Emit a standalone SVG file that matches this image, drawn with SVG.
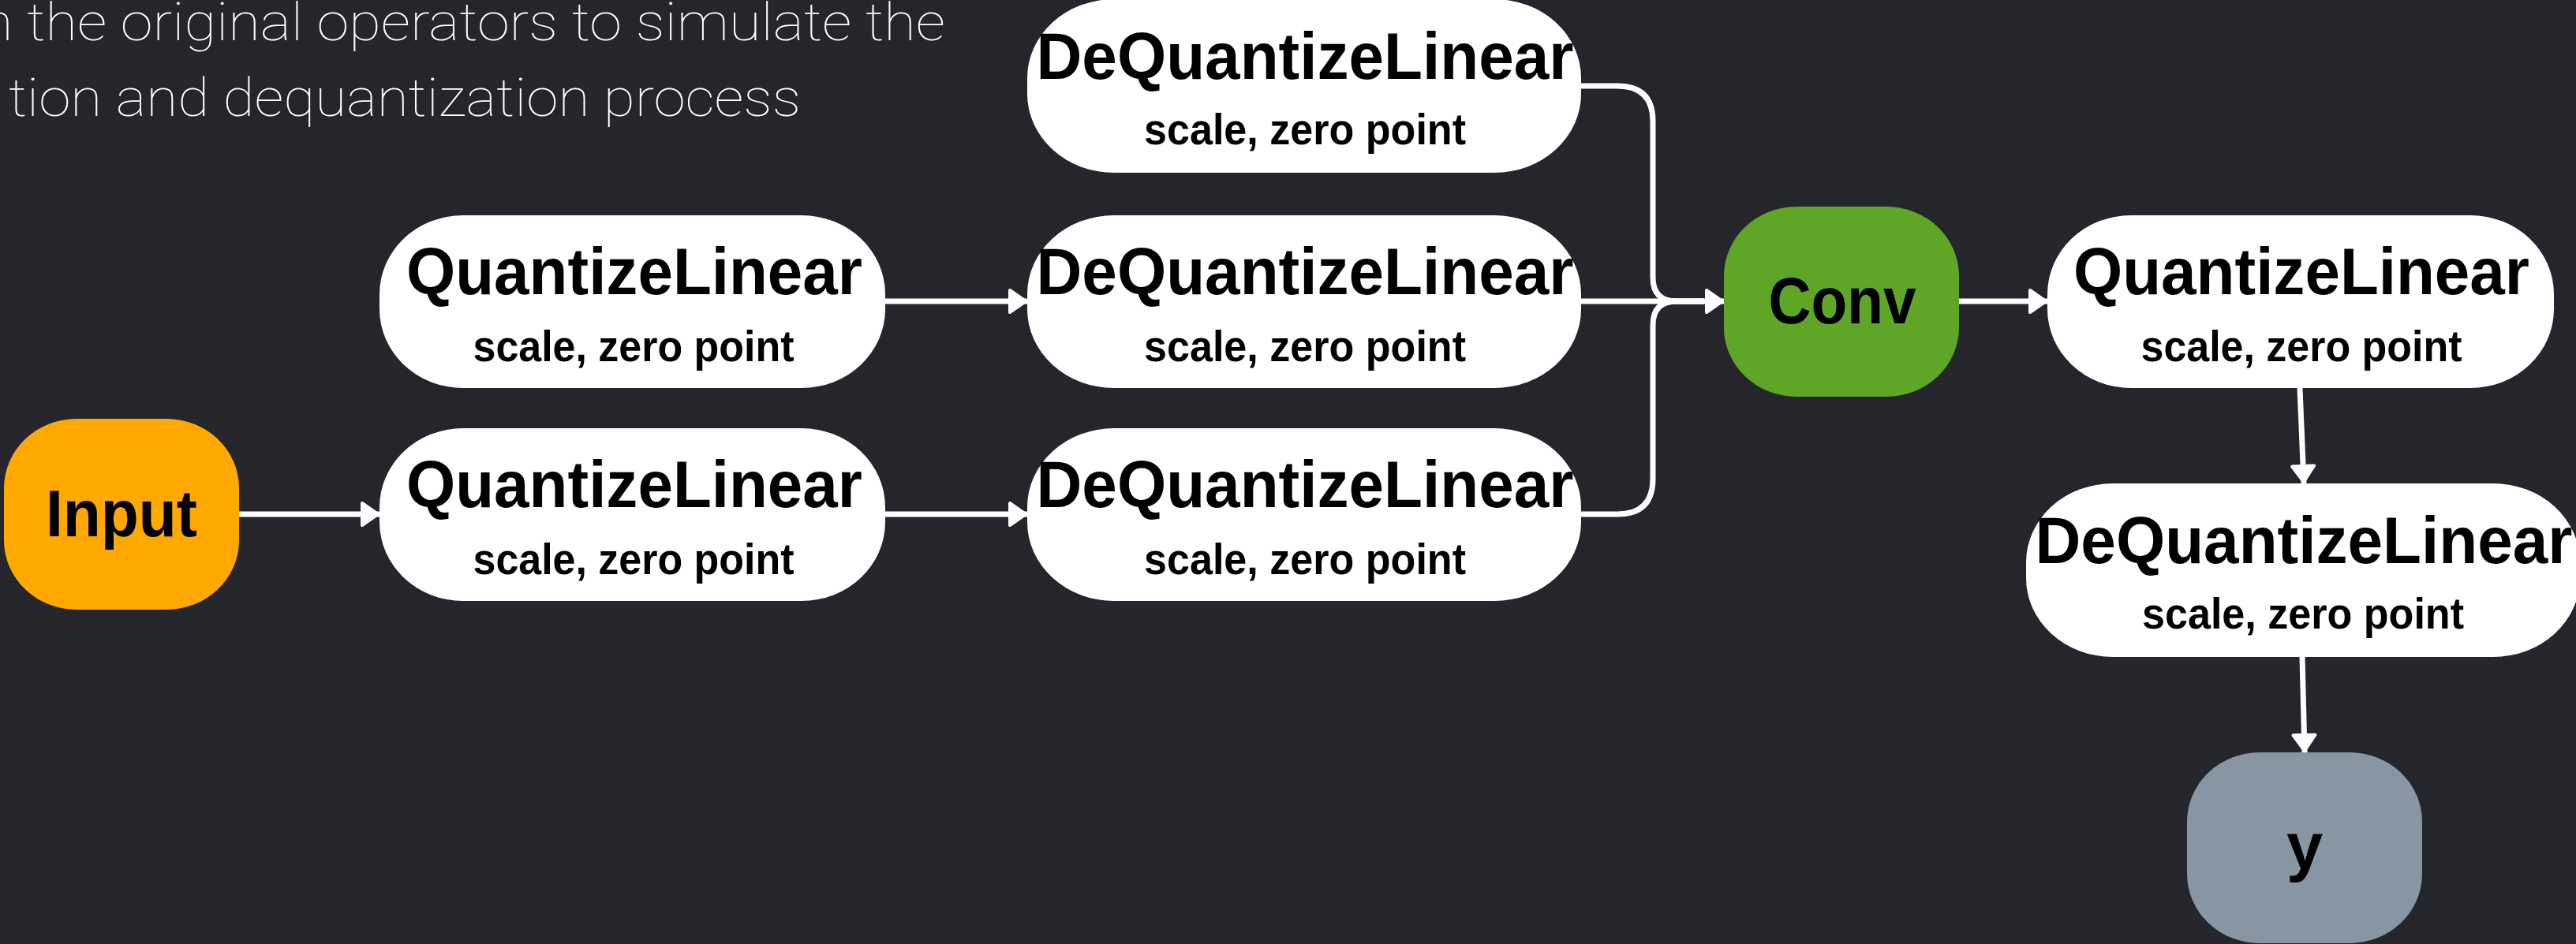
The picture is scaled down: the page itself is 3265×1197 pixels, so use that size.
<svg xmlns="http://www.w3.org/2000/svg" width="3265" height="1197" viewBox="0 0 3265 1197">
  <defs>
    <style>
      .bg { fill: #25262b; }
      .op { fill: #ffffff; }
      .title { font-family: "Liberation Sans", Arial, sans-serif; font-weight: bold; font-size: 83px; fill: #000000; text-anchor: middle; }
      .sub { font-family: "Liberation Sans", Arial, sans-serif; font-weight: bold; font-size: 56px; fill: #000000; text-anchor: middle; }
      .head { font-family: Roboto, "Open Sans", sans-serif; font-weight: 100; font-size: 66px; fill: #ffffff; }
      .edge { fill: none; stroke: #ffffff; stroke-width: 7; }
    </style>
    <marker id="arrow" markerUnits="userSpaceOnUse" viewBox="0 0 26 34" markerWidth="26" markerHeight="34" refX="25" refY="17" orient="auto">
      <path d="M3,3 L23,17 L3,31 Z" fill="#ffffff" stroke="#ffffff" stroke-width="4" stroke-linejoin="round"/>
    </marker>
  </defs>

  <rect class="bg" x="0" y="0" width="3265" height="1197"/>

  <!-- heading, continued from the previous slide area -->
  <g id="heading">
    <text class="head" x="-24" y="51" textLength="1222" lengthAdjust="spacingAndGlyphs">n the original operators to simulate the</text>
    <text class="head" x="11" y="147" textLength="1004" lengthAdjust="spacingAndGlyphs">tion and dequantization process</text>
  </g>

  <!-- connectors -->
  <g id="connectors">
    <path class="edge" d="M303,652 H481" marker-end="url(#arrow)"/>
    <path class="edge" d="M1122,382 H1302" marker-end="url(#arrow)"/>
    <path class="edge" d="M1122,652 H1302" marker-end="url(#arrow)"/>
    <path class="edge" d="M2004,109 H2050 Q2095,109 2095,154 V352 Q2095,382 2125,382 H2160"/>
    <path class="edge" d="M2004,652 H2050 Q2095,652 2095,607 V412 Q2095,382 2125,382 H2160"/>
    <path class="edge" d="M2004,382 H2185" marker-end="url(#arrow)"/>
    <path class="edge" d="M2483,382 H2595" marker-end="url(#arrow)"/>
    <path class="edge" d="M2915,492 L2920,613" marker-end="url(#arrow)"/>
    <path class="edge" d="M2918,833 L2921,954" marker-end="url(#arrow)"/>
  </g>

  <!-- nodes -->
  <g id="input">
    <rect x="5" y="531" width="298" height="242" rx="92" ry="88" fill="#ffa800"/>
    <text class="title" x="154" y="680" textLength="192" lengthAdjust="spacingAndGlyphs">Input</text>
  </g>

  <g id="quantize-weight">
    <rect class="op" x="481" y="273" width="641" height="219" rx="106" ry="100"/>
    <text class="title" x="804" y="373" textLength="578" lengthAdjust="spacingAndGlyphs">QuantizeLinear</text>
    <text class="sub" x="803" y="458" textLength="407" lengthAdjust="spacingAndGlyphs">scale, zero point</text>
  </g>

  <g id="quantize-input">
    <rect class="op" x="481" y="543" width="641" height="219" rx="106" ry="100"/>
    <text class="title" x="804" y="643" textLength="578" lengthAdjust="spacingAndGlyphs">QuantizeLinear</text>
    <text class="sub" x="803" y="728" textLength="407" lengthAdjust="spacingAndGlyphs">scale, zero point</text>
  </g>

  <g id="dequantize-bias">
    <rect class="op" x="1302" y="-1" width="702" height="220" rx="110" ry="100"/>
    <text class="title" x="1654" y="100" textLength="681" lengthAdjust="spacingAndGlyphs">DeQuantizeLinear</text>
    <text class="sub" x="1654" y="183" textLength="408" lengthAdjust="spacingAndGlyphs">scale, zero point</text>
  </g>

  <g id="dequantize-weight">
    <rect class="op" x="1302" y="273" width="702" height="219" rx="110" ry="100"/>
    <text class="title" x="1654" y="373" textLength="681" lengthAdjust="spacingAndGlyphs">DeQuantizeLinear</text>
    <text class="sub" x="1654" y="458" textLength="408" lengthAdjust="spacingAndGlyphs">scale, zero point</text>
  </g>

  <g id="dequantize-input">
    <rect class="op" x="1302" y="543" width="702" height="219" rx="110" ry="100"/>
    <text class="title" x="1654" y="643" textLength="681" lengthAdjust="spacingAndGlyphs">DeQuantizeLinear</text>
    <text class="sub" x="1654" y="728" textLength="408" lengthAdjust="spacingAndGlyphs">scale, zero point</text>
  </g>

  <g id="conv">
    <rect x="2185" y="262" width="298" height="241" rx="92" ry="88" fill="#5fa526"/>
    <text class="title" x="2335" y="410" textLength="187" lengthAdjust="spacingAndGlyphs">Conv</text>
  </g>

  <g id="quantize-output">
    <rect class="op" x="2595" y="273" width="642" height="219" rx="106" ry="100"/>
    <text class="title" x="2917" y="373" textLength="578" lengthAdjust="spacingAndGlyphs">QuantizeLinear</text>
    <text class="sub" x="2917" y="458" textLength="407" lengthAdjust="spacingAndGlyphs">scale, zero point</text>
  </g>

  <g id="dequantize-output">
    <rect class="op" x="2568" y="613" width="702" height="220" rx="110" ry="100"/>
    <text class="title" x="2920" y="714" textLength="681" lengthAdjust="spacingAndGlyphs">DeQuantizeLinear</text>
    <text class="sub" x="2919" y="797" textLength="408" lengthAdjust="spacingAndGlyphs">scale, zero point</text>
  </g>

  <g id="output-y">
    <rect x="2772" y="954" width="298" height="242" rx="92" ry="88" fill="#8896a4"/>
    <text class="title" x="2921" y="1102">y</text>
  </g>
</svg>
